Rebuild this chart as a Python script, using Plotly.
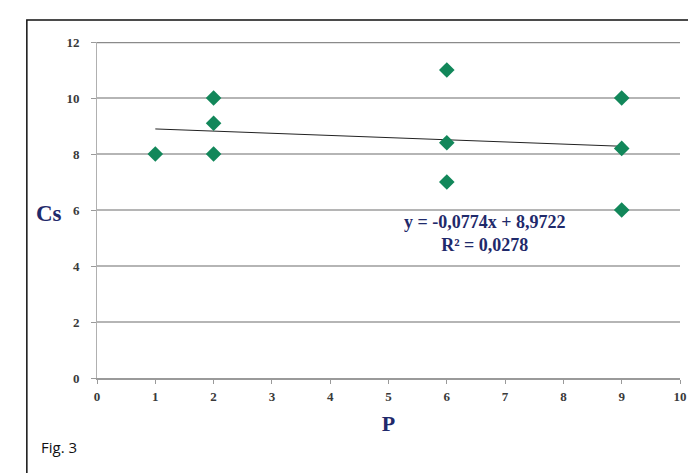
import plotly.graph_objects as go

P = [1, 2, 2, 2, 6, 6, 6, 9, 9, 9]
Cs = [8, 8, 9.1, 10, 11, 8.4, 7, 10, 8.2, 6]
slope = -0.0774
intercept = 8.9722
trend_x = [1, 9]
trend_y = [slope * x + intercept for x in trend_x]
x_ticks = list(range(0, 11))
y_ticks = [0, 2, 4, 6, 8, 10, 12]

serif = "Liberation Serif"
navy = "#1f2a6b"
tick_font = dict(family=serif, size=13, color="#3a3a3a", weight="bold")

W = 590  # plot-area width in px
H = 336  # plot-area height in px

fig = go.Figure()
fig.add_trace(go.Scatter(x=trend_x, y=trend_y, mode="lines",
                         line=dict(color="#222222", width=1), showlegend=False))
fig.add_trace(go.Scatter(x=P, y=Cs, mode="markers",
                         marker=dict(symbol="diamond", size=12, color="#12875a"),
                         showlegend=False))

fig.update_layout(
    width=688, height=473,
    margin=dict(l=97, r=1, t=42, b=95),
    paper_bgcolor="white", plot_bgcolor="white",
    xaxis=dict(range=[0, 10], tickvals=x_ticks, showgrid=False,
               showline=True, linecolor="#9a9a9a", linewidth=1.5,
               ticks="outside", ticklen=4, tickcolor="#9a9a9a",
               tickfont=tick_font, zeroline=False, ticklabelstandoff=2,
               ticklabeloverflow="allow",
               title=dict(text="<b>P</b>", font=dict(family=serif, size=22, color=navy), standoff=12)),
    yaxis=dict(range=[0, 12], tickvals=y_ticks, showgrid=True,
               gridcolor="#b5b5b5", gridwidth=2,
               showline=True, linecolor="#b0b0b0", linewidth=1,
               ticks="outside", ticklen=5, tickcolor="#9a9a9a",
               tickfont=tick_font, zeroline=False, ticklabelstandoff=9,
               title=None),
    annotations=[
        dict(x=6.65, y=(377 - 232) / 28, xref="x", yref="y", showarrow=False,
             xanchor="center", yanchor="middle",
             text="<b>y = -0,0774x + 8,9722<br>R² = 0,0278</b>",
             font=dict(family=serif, size=18, color=navy)),
        dict(x=-49 / W, y=(377 - 212) / H, xref="paper", yref="paper",
             xanchor="center", yanchor="middle",
             showarrow=False, text="<b>Cs</b>",
             font=dict(family=serif, size=23, color=navy)),
        dict(x=-59 / W, y=(377 - 446) / H, xref="paper", yref="paper",
             xanchor="left", yanchor="middle", showarrow=False, text="Fig. 3",
             font=dict(family="Open Sans", size=15, color="#111111")),
    ],
    shapes=[
        dict(type="rect", xref="paper", yref="paper",
             x0=-71 / W, x1=1.05,
             y0=(377 - 490) / H, y1=(377 - 19) / H,
             line=dict(color="#111111", width=1.5)),
        dict(type="line", xref="paper", yref="y", x0=0, x1=1, y0=12, y1=12,
             line=dict(color="#8a8a8a", width=2.5)),
    ],
)
fig.write_html("out.html", config={"displayModeBar": False},
               post_script="document.body.style.margin='0';document.body.style.overflow='hidden';")
